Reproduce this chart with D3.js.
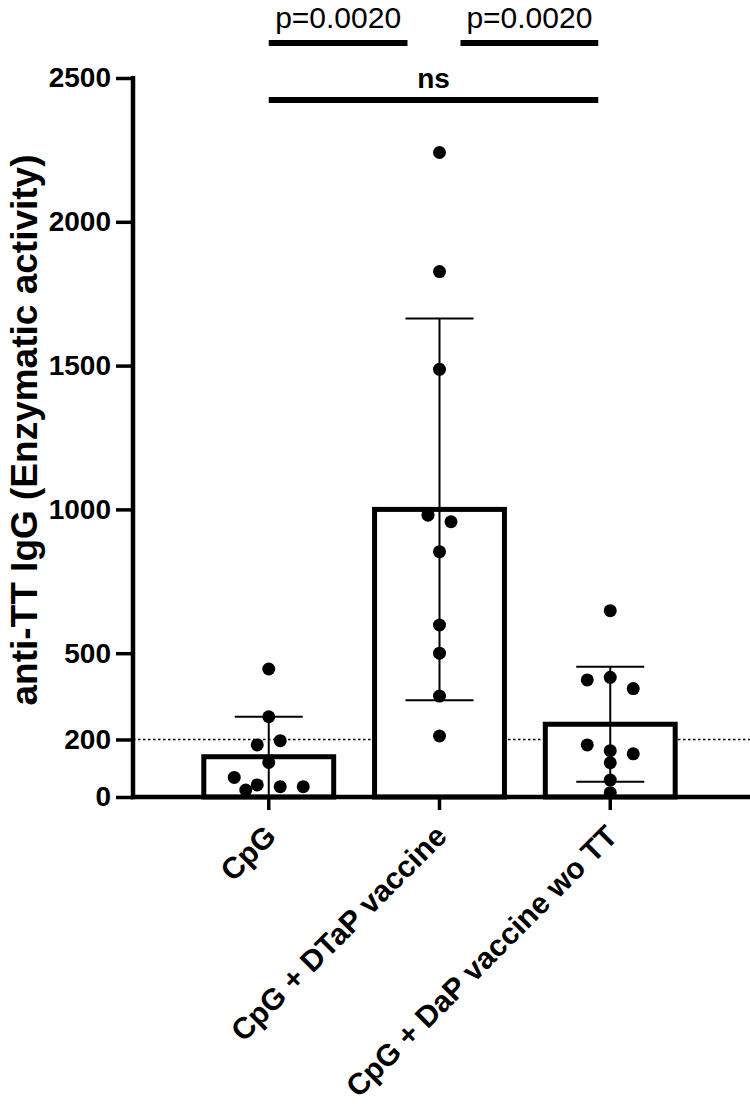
<!DOCTYPE html>
<html><head><meta charset="utf-8">
<script src="https://cdn.jsdelivr.net/npm/d3@7"></script>
<style>body{margin:0;background:#fff} svg{display:block}</style>
</head><body>
<svg id="chart" width="750" height="1114"></svg>
<script>
// ---- data ----
const categories = ["CpG", "CpG + DTaP vaccine", "CpG + DaP vaccine wo TT"];
const means = [140, 1000, 253];
const sds = [139, 664, 200];
const cpgValues = [445, 279, 181, 196, 120, 68, 42, 36, 36, 24];
const dtapValues = [2241, 1827, 1487, 980, 957, 853, 598, 500, 351, 212];
const dapValues = [648, 407, 416, 377, 181, 161, 150, 119, 59, 15];
const groupValues = [cpgValues, dtapValues, dapValues];
const yTicks = [0, 200, 500, 1000, 1500, 2000, 2500];
const thresholdValue = 200;
const comparisonLabels = ["p=0.0020", "p=0.0020", "ns"];
const comparisonPairs = [[0, 1], [1, 2], [0, 2]];
const yTitle = "anti-TT IgG (Enzymatic activity)";

// ---- layout ----
const svg = d3.select("#chart");
const axisX = 133, axisTop = 78, axisBottom = 797;
const y = d3.scaleLinear().domain([0, 2500]).range([axisBottom, axisTop]);
const x = d3.scaleBand().domain(categories).range([axisX, 746]).paddingInner(0.21).paddingOuter(0.40);
const cx = i => x(categories[i]) + x.bandwidth() / 2;
const FONT = "'Liberation Sans', Arial, Helvetica, sans-serif";

// threshold dotted line
svg.append("line")
  .attr("x1", axisX).attr("x2", 750)
  .attr("y1", y(thresholdValue)).attr("y2", y(thresholdValue))
  .attr("stroke", "#000").attr("stroke-width", 1.3).attr("stroke-dasharray", "2.5,2.5");

// bars
svg.selectAll("rect.bar").data(means).join("rect")
  .attr("class", "bar")
  .attr("x", (d, i) => x(categories[i]) + 2.5)
  .attr("width", x.bandwidth() - 5)
  .attr("y", d => y(d))
  .attr("height", d => axisBottom - y(d))
  .attr("fill", "#fff").attr("stroke", "#000").attr("stroke-width", 5);

// error bars
const capHalf = 34;
means.forEach((m, i) => {
  const hi = m + sds[i], lo = Math.max(0, m - sds[i]);
  const g = svg.append("g").attr("stroke", "#000").attr("stroke-width", 2);
  g.append("line").attr("x1", cx(i)).attr("x2", cx(i)).attr("y1", y(hi)).attr("y2", y(lo));
  g.append("line").attr("x1", cx(i) - capHalf).attr("x2", cx(i) + capHalf).attr("y1", y(hi)).attr("y2", y(hi));
  if (m - sds[i] > 0)
    g.append("line").attr("x1", cx(i) - capHalf).attr("x2", cx(i) + capHalf).attr("y1", y(lo)).attr("y2", y(lo));
});

// dots (simple row-based dodge)
const r = 6.5, colStep = 23, rowTol = 12, minDist = 12.05;
function layoutDots(values, center) {
  const idx = values.map((v, i) => i).sort((a, b) => values[b] - values[a]);
  const rows = [];
  idx.forEach(i => {
    const py = y(values[i]);
    const last = rows[rows.length - 1];
    if (last && py - last.top <= rowTol) last.items.push(i);
    else rows.push({ top: py, items: [i] });
  });
  const placed = [];
  rows.forEach(row => {
    if (row.items.length > 1) {
      const items = row.items.slice().sort((a, b) => a - b);
      const n = items.length;
      items.forEach((i, k) => placed.push({ v: values[i], px: center + (k - (n - 1) / 2) * colStep, py: y(values[i]) }));
    } else {
      const i = row.items[0], py = y(values[i]);
      const cands = [0, -0.5, 0.5, -1, 1, -1.5, 1.5, -2, 2];
      let px = center;
      for (const c of cands) {
        const tx = center + c * colStep;
        if (placed.every(p => Math.hypot(p.px - tx, p.py - py) >= minDist)) { px = tx; break; }
      }
      placed.push({ v: values[i], px, py });
    }
  });
  return placed;
}
groupValues.forEach((vals, gi) => {
  const pts = layoutDots(vals, cx(gi));
  svg.append("g").selectAll("circle").data(pts).join("circle")
    .attr("cx", d => d.px).attr("cy", d => d.py).attr("r", r).attr("fill", "#000");
});

// y axis
const yAxis = d3.axisLeft(y).tickValues(yTicks).tickSize(17).tickSizeOuter(0).tickPadding(5).tickFormat(d3.format("d"));
const yg = svg.append("g").attr("transform", `translate(${axisX},0)`).call(yAxis);
yg.select(".domain").remove();
yg.selectAll(".tick line").attr("stroke", "#000").attr("stroke-width", 3.5);
yg.selectAll(".tick text").attr("font-family", FONT).attr("font-weight", "bold").attr("font-size", 28).attr("fill", "#000");
svg.append("line").attr("x1", axisX).attr("x2", axisX).attr("y1", axisTop - 2).attr("y2", axisBottom + 2.2)
  .attr("stroke", "#000").attr("stroke-width", 4.5);

// x axis
const xAxis = d3.axisBottom(x).tickSize(13).tickSizeOuter(0).tickFormat("");
const xg = svg.append("g").attr("transform", `translate(0,${axisBottom})`).call(xAxis);
xg.select(".domain").remove();
xg.selectAll(".tick line").attr("stroke", "#000").attr("stroke-width", 3.5);
svg.append("line").attr("x1", axisX - 2).attr("x2", 750).attr("y1", axisBottom).attr("y2", axisBottom)
  .attr("stroke", "#000").attr("stroke-width", 4.5);

// x labels
svg.append("g").selectAll("text").data(categories).join("text")
  .attr("transform", (d, i) => `translate(${cx(i) + 9},${838}) rotate(-45)`)
  .attr("text-anchor", "end")
  .attr("font-family", FONT).attr("font-weight", "bold").attr("font-size", 30).attr("fill", "#000")
  .text(d => d);

// y title
svg.append("text")
  .attr("transform", `translate(37,430) rotate(-90)`)
  .attr("text-anchor", "middle")
  .attr("font-family", FONT).attr("font-weight", "bold").attr("font-size", 37).attr("fill", "#000")
  .text(yTitle);

// significance brackets
const bracketSpecs = [
  { ins: [0, 32], lineY: 43, textY: 28, bold: false, size: 30 },
  { ins: [-21, 12], lineY: 43, textY: 28, bold: false, size: 30 },
  { ins: [0, 12], lineY: 100, textY: 88, bold: true, size: 28 }
];
comparisonPairs.forEach((pair, k) => {
  const s = bracketSpecs[k];
  const x1 = cx(pair[0]) - s.ins[0], x2 = cx(pair[1]) - s.ins[1];
  svg.append("line").attr("x1", x1).attr("x2", x2).attr("y1", s.lineY).attr("y2", s.lineY)
    .attr("stroke", "#000").attr("stroke-width", 6);
  svg.append("text").attr("x", (x1 + x2) / 2).attr("y", s.textY)
    .attr("text-anchor", "middle")
    .attr("font-family", FONT).attr("font-weight", s.bold ? "bold" : "normal").attr("font-size", s.size).attr("fill", "#000")
    .text(comparisonLabels[k]);
});
</script>
</body></html>
